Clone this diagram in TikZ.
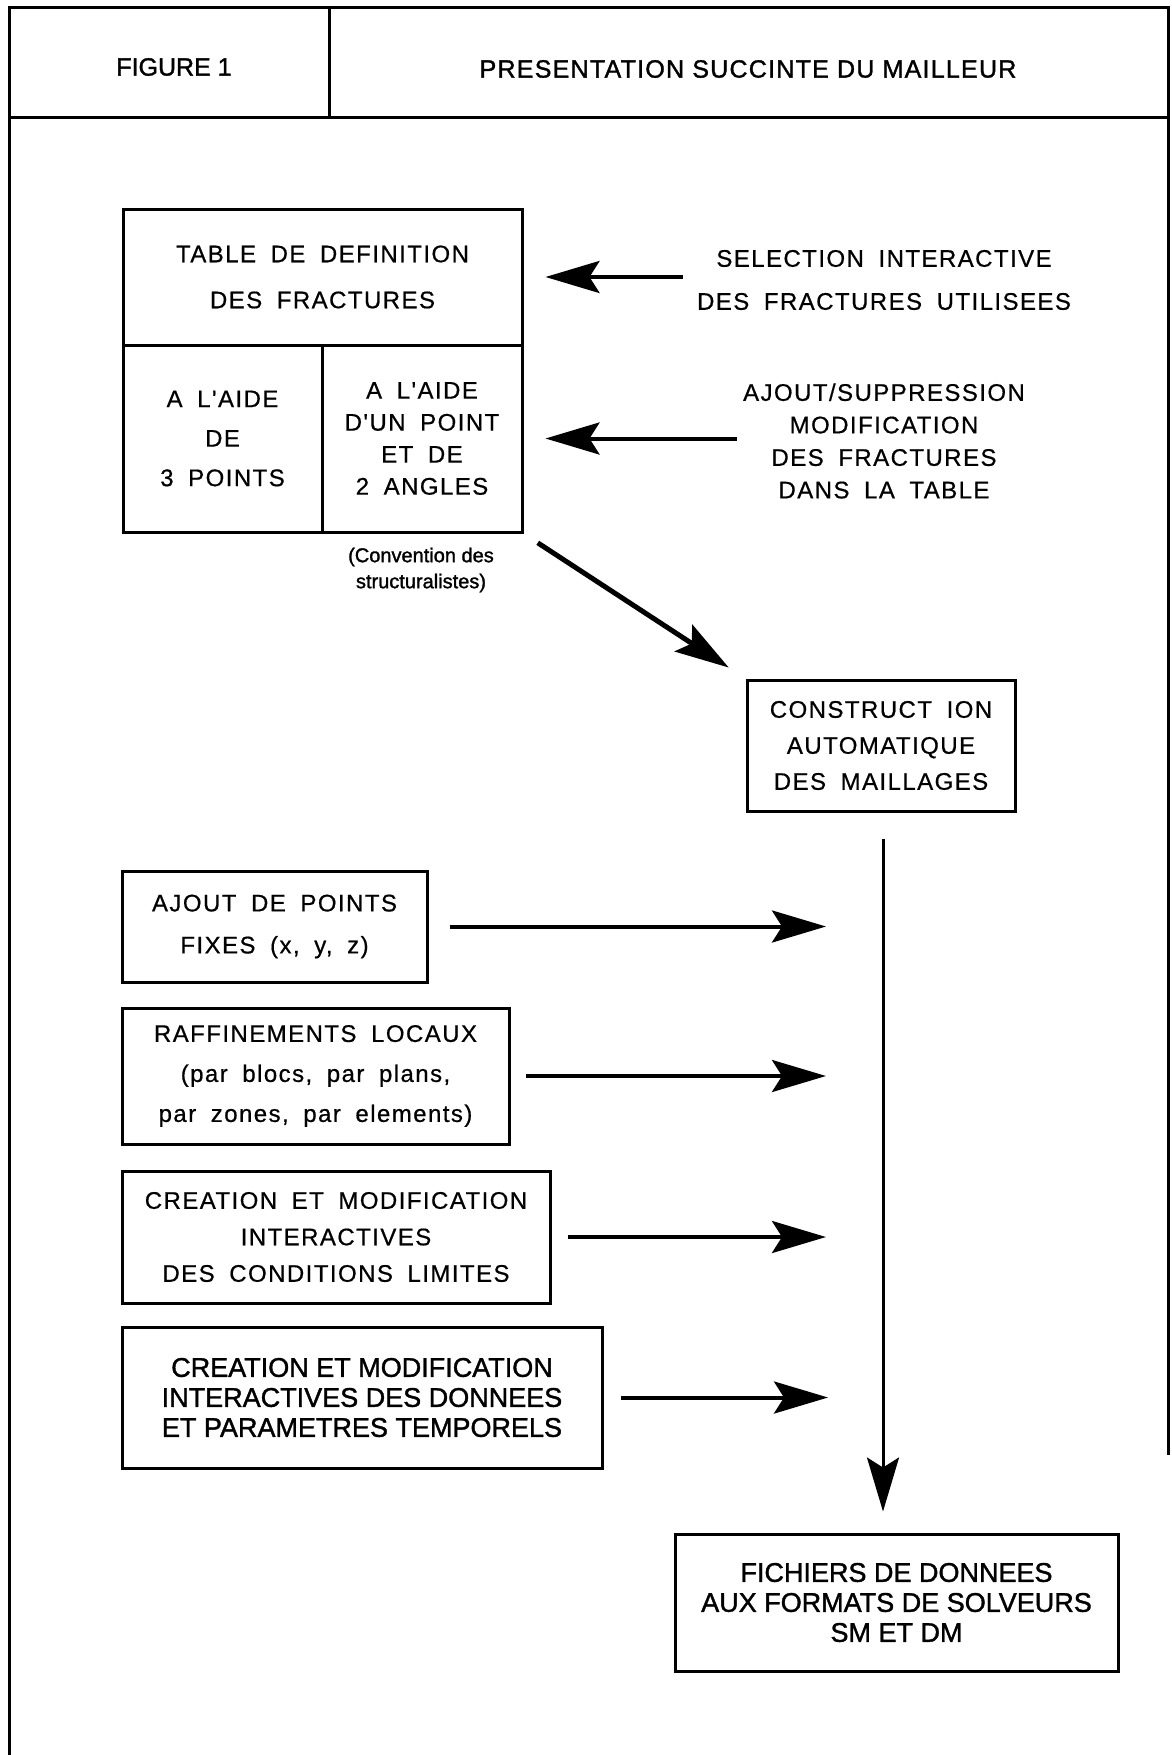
\documentclass[tikz,border=0pt]{standalone}
\usepackage{fontspec}
\setmainfont{Liberation Sans}
\newfontfamily\plotfont[LetterSpace=6,WordSpace=1.8,FakeBold=0.6]{Liberation Sans}
\newfontfamily\arialfont[FakeBold=1.4]{Liberation Sans}
\newfontfamily\titlefont[FakeBold=1.4,LetterSpace=5]{Liberation Sans}
\usetikzlibrary{arrows.meta}
\newcommand\pf[2]{\plotfont\fontsize{#1}{#2}\selectfont}
\newcommand\af[2]{\arialfont\fontsize{#1}{#2}\selectfont}
\newcommand\tf[2]{\titlefont\fontsize{#1}{#2}\selectfont}
\begin{document}
\begin{tikzpicture}[x=1pt,y=-1pt,
  box/.style={draw,line width=3pt,inner sep=0pt,align=center},
  lbl/.style={inner sep=0pt,align=center},
  arr/.style={line width=4pt,-{Stealth[length=54pt,width=32pt,inset=10pt]}},
  frameline/.style={line width=3pt}]
\useasboundingbox (0,0) rectangle (1171,1755);
% frame and header
\draw[frameline] (9,1755) -- (9,8) -- (1168.5,8) -- (1168.5,1455);
\draw[frameline] (9,118) -- (1168.5,118);
\draw[frameline] (329,8) -- (329,118);
\node[lbl,font=\af{25}{30}] (fig) at (174,67) {FIGURE 1};
\node[lbl,font=\tf{25}{30}] (title) at (748,69) {PRESENTATION SUCCINTE DU MAILLEUR};
% table
\node[box,minimum width=399pt,minimum height=136pt,font=\pf{24}{46}] (tdef) at (322.5,277)
  {TABLE DE DEFINITION\\DES FRACTURES};
\node[box,minimum width=199pt,minimum height=187pt,font=\pf{24}{39.5}] (c3p) at (222.5,438.5)
  {A L'AIDE\\DE\\3 POINTS};
\node[box,minimum width=200pt,minimum height=187pt,font=\pf{24}{32}] (c2a) at (422,438.5)
  {A L'AIDE\\D'UN POINT\\ET DE\\2 ANGLES};
\node[lbl,font=\af{20}{26}] (conv) at (421,570) {(Convention des\\structuralistes)};
% right labels
\node[lbl,font=\pf{24}{43}] (sel) at (884,280) {SELECTION INTERACTIVE\\DES FRACTURES UTILISEES};
\node[lbl,font=\pf{24}{32.5}] (ajs) at (884,441) {AJOUT/SUPPRESSION\\MODIFICATION\\DES FRACTURES\\DANS LA TABLE};
% construction
\node[box,minimum width=268pt,minimum height=131pt,font=\pf{24}{36}] (cons) at (881,745.5)
  {CONSTRUCT ION\\AUTOMATIQUE\\DES MAILLAGES};
% left boxes
\node[box,minimum width=305pt,minimum height=111pt,font=\pf{24}{42}] (ajout) at (274.5,926.5)
  {AJOUT DE POINTS\\FIXES (x, y, z)};
\node[box,minimum width=387pt,minimum height=136pt,font=\pf{24}{40}] (raff) at (315.5,1076)
  {RAFFINEMENTS LOCAUX\\(par blocs, par plans,\\par zones, par elements)};
\node[box,minimum width=428pt,minimum height=132pt,font=\pf{24}{36.5}] (crea1) at (336,1237)
  {CREATION ET MODIFICATION\\INTERACTIVES\\DES CONDITIONS LIMITES};
\node[box,minimum width=480pt,minimum height=141pt,font=\af{27}{30}] (crea2) at (362,1397.5)
  {CREATION ET MODIFICATION\\INTERACTIVES DES DONNEES\\ET PARAMETRES TEMPORELS};
\node[box,minimum width=443pt,minimum height=137pt,font=\af{27}{30}] (fich) at (896.5,1602.5)
  {FICHIERS DE DONNEES\\AUX FORMATS DE SOLVEURS\\SM ET DM};
% connectors
\draw[arr] ([xshift=159pt]tdef.east) -- ([xshift=22pt]tdef.east);
\draw[arr] ([xshift=213pt]c2a.east) -- ([xshift=22pt]c2a.east);
\draw[arr,line width=5pt,shorten <=17pt,shorten >=20pt] (c2a.south east) -- (cons.north west);
\draw[arr,line width=3pt,shorten <=26pt,shorten >=21pt] ([xshift=2pt]cons.south) -- ([xshift=2pt]cons.south |- fich.north);
\draw[arr,shorten <=21pt,shorten >=57pt] (ajout.east) -- ([xshift=2pt]ajout.east -| cons.south);
\draw[arr,shorten <=15pt,shorten >=57pt] (raff.east) -- ([xshift=2pt]raff.east -| cons.south);
\draw[arr,shorten <=16pt,shorten >=57pt] (crea1.east) -- ([xshift=2pt]crea1.east -| cons.south);
\draw[arr,shorten <=17pt,shorten >=55pt] (crea2.east) -- ([xshift=2pt]crea2.east -| cons.south);
\end{tikzpicture}
\end{document}
